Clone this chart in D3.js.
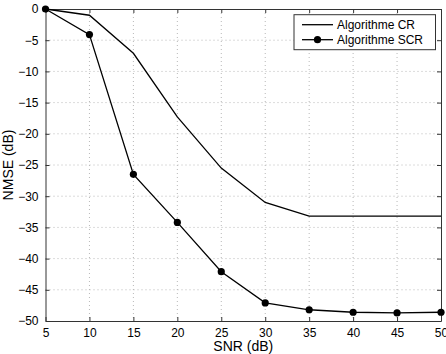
<!DOCTYPE html>
<meta charset="utf-8">
<html>
  <head>
    <style>
      body { margin: 0; background: #fff; }
      text { font-family: "Liberation Sans", Arial, sans-serif; fill: #000; }
      .tick text { font-size: 12px; }
      .grid line { stroke: #b8b8b8; stroke-width: 1px; stroke-dasharray: 1,3; }
    </style>
    <script src="https://d3js.org/d3.v7.min.js"></script>
  </head>
  <body>
    <div id="chart"></div>
    <script type="text/javascript">
      var snr = [5, 10, 15, 20, 25, 30, 35, 40, 45, 50],
          cr = [0, -1, -7.1, -17.3, -25.5, -31, -33.2, -33.2, -33.2, -33.2],
          scr = [0, -4.1, -26.5, -34.2, -42.1, -47.1, -48.2, -48.6, -48.7, -48.6],
          xTicks = [5, 10, 15, 20, 25, 30, 35, 40, 45, 50],
          yTicks = [0, -5, -10, -15, -20, -25, -30, -35, -40, -45, -50],
          seriesNames = ["Algorithme CR", "Algorithme SCR"];

      var width = 446, height = 354,
          margin = { top: 9, right: 5, bottom: 33, left: 45.5 },
          w = width - margin.left - margin.right,
          h = height - margin.top - margin.bottom;

      var svg = d3.select("#chart").append("svg")
          .attr("width", width)
          .attr("height", height)
          .append("g")
          .attr("transform", "translate(" + margin.left + "," + margin.top + ")");

      var x = d3.scaleLinear().domain([5, 50]).range([0, w]);
      var y = d3.scaleLinear().domain([-50, 0]).range([h, 0]);

      // dotted grid
      svg.append("g").attr("class", "grid")
          .selectAll("line").data(xTicks.slice(1, -1)).enter().append("line")
            .attr("x1", function(d) { return x(d); }).attr("x2", function(d) { return x(d); })
            .attr("y1", 0).attr("y2", h);
      svg.append("g").attr("class", "grid")
          .selectAll("line").data(yTicks.slice(1, -1)).enter().append("line")
            .attr("y1", function(d) { return y(d); }).attr("y2", function(d) { return y(d); })
            .attr("x1", 0).attr("x2", w);

      // axes, ticks inside like matlab
      svg.append("g")
          .attr("transform", "translate(0," + h + ")")
          .call(d3.axisBottom(x).tickValues(xTicks).tickSizeInner(-4).tickSizeOuter(0).tickPadding(7));
      svg.append("g")
          .call(d3.axisLeft(y).tickValues(yTicks).tickSizeInner(-4).tickSizeOuter(0).tickPadding(7)
            .tickFormat(function(d) { return d < 0 ? "\u2212" + Math.abs(d) : d; }));
      svg.append("g")
          .call(d3.axisTop(x).tickValues(xTicks).tickSizeInner(-4).tickSizeOuter(0).tickFormat(""));
      svg.append("g")
          .attr("transform", "translate(" + w + ",0)")
          .call(d3.axisRight(y).tickValues(yTicks).tickSizeInner(-4).tickSizeOuter(0).tickFormat(""));

      svg.selectAll(".domain").attr("stroke", "#333");
      svg.selectAll(".tick line").attr("stroke", "#333");

      var line = d3.line()
          .x(function(d) { return x(d[0]); })
          .y(function(d) { return y(d[1]); });

      svg.append("path")
          .datum(d3.zip(snr, cr))
          .attr("fill", "none").attr("stroke", "#000").attr("stroke-width", 1.3)
          .attr("d", line);

      svg.append("path")
          .datum(d3.zip(snr, scr))
          .attr("fill", "none").attr("stroke", "#000").attr("stroke-width", 1.3)
          .attr("d", line);

      svg.selectAll(".dot")
          .data(d3.zip(snr, scr)).enter().append("circle")
            .attr("cx", function(d) { return x(d[0]); })
            .attr("cy", function(d) { return y(d[1]); })
            .attr("r", 3.6)
            .attr("fill", "#000");

      // axis labels
      svg.append("text")
          .attr("x", w / 2).attr("y", h + 30)
          .style("text-anchor", "middle").style("font-size", "14px")
          .text("SNR (dB)");
      svg.append("text")
          .attr("transform", "translate(" + (-33) + "," + (h / 2) + ") rotate(-90)")
          .style("text-anchor", "middle").style("font-size", "14px")
          .text("NMSE (dB)");

      // legend
      var lg = svg.append("g").attr("transform", "translate(" + (294 - margin.left) + "," + (14.7 - margin.top) + ")");
      lg.append("rect")
          .attr("width", 141.5).attr("height", 35)
          .attr("fill", "#fff").attr("stroke", "#333").attr("stroke-width", 1);
      seriesNames.forEach(function(name, i) {
        var ly = 10 + i * 15;
        lg.append("line").attr("x1", 8).attr("x2", 39).attr("y1", ly).attr("y2", ly)
            .attr("stroke", "#000").attr("stroke-width", 1.3);
        if (i === 1) lg.append("circle").attr("cx", 23.5).attr("cy", ly).attr("r", 3.6).attr("fill", "#000");
        lg.append("text").attr("x", 43).attr("y", ly + 4.5)
            .style("font-size", "12px").text(name);
      });
    </script>
  </body>
</html>
